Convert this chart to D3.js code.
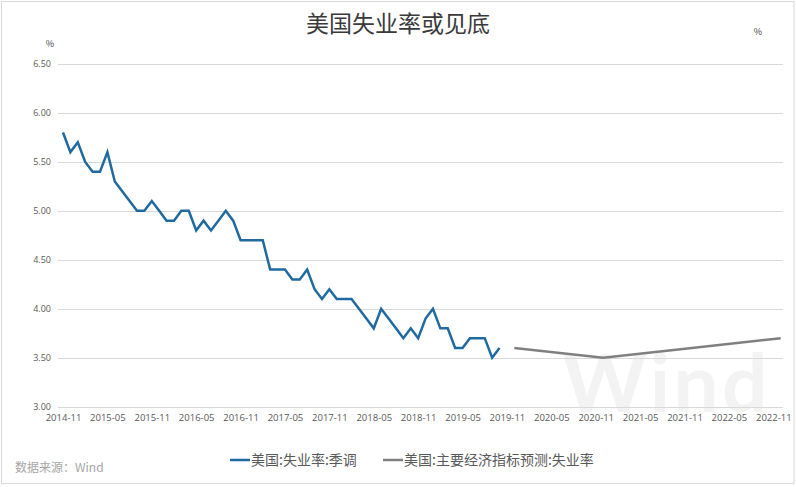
<!DOCTYPE html>
<html>
<head>
<meta charset="utf-8">
<script src="https://cdn.jsdelivr.net/npm/d3@7"></script>
<style>
  body { margin: 0; background: #fff; }
  svg text { font-family: "Noto Sans CJK SC", "Open Sans", sans-serif; }
</style>
</head>
<body>
<div id="chart-area"></div>
<script>
// month labels, 2014-11 .. 2022-12 (one slot per month)
var startYear = 2014, startMonth = 11, monthCount = 98;
var tickLabels = ["2014-11", "2015-05", "2015-11", "2016-05", "2016-11", "2017-05", "2017-11",
    "2018-05", "2018-11", "2019-05", "2019-11", "2020-05", "2020-11", "2021-05", "2021-11",
    "2022-05", "2022-11"];
var yTicks = [3.0, 3.5, 4.0, 4.5, 5.0, 5.5, 6.0, 6.5];

// 美国:失业率:季调, monthly 2014-11 .. 2019-10
var rateMonths = [];
var rateValues = [5.8, 5.6, 5.7, 5.5, 5.4, 5.4, 5.6, 5.3, 5.2, 5.1, 5.0, 5.0,
    5.1, 5.0, 4.9, 4.9, 5.0, 5.0, 4.8, 4.9, 4.8, 4.9, 5.0, 4.9,
    4.7, 4.7, 4.7, 4.7, 4.4, 4.4, 4.4, 4.3, 4.3, 4.4, 4.2, 4.1,
    4.2, 4.1, 4.1, 4.1, 4.0, 3.9, 3.8, 4.0, 3.9, 3.8, 3.7, 3.8,
    3.7, 3.9, 4.0, 3.8, 3.8, 3.6, 3.6, 3.7, 3.7, 3.7, 3.5, 3.6];
// 美国:主要经济指标预测:失业率 (annual, December)
var forecastMonths = ["2019-12", "2020-12", "2021-12", "2022-12"];
var forecastValues = [3.6, 3.5, 3.6, 3.7];

var months = [];
for (var i = 0; i < monthCount; i++) {
    var m = startMonth - 1 + i;
    var yy = startYear + Math.floor(m / 12), mm = (m % 12) + 1;
    months.push(yy + "-" + (mm < 10 ? "0" + mm : mm));
}
for (var i = 0; i < rateValues.length; i++) rateMonths.push(months[i]);

var width = 796, height = 487;
var svg = d3.select("#chart-area").append("svg")
    .attr("width", width)
    .attr("height", height);

// outer frame
svg.append("rect")
    .attr("x", 1.5).attr("y", 1.5)
    .attr("width", 792.5).attr("height", 482)
    .attr("fill", "#fff")
    .attr("stroke", "#d9d9d9");

// watermark (sits behind the plot, above the x labels as in the original)
svg.append("text")
    .attr("x", 665).attr("y", 412)
    .attr("text-anchor", "middle")
    .attr("font-size", "80px")
    .attr("font-weight", "bold")
    .attr("textLength", 205)
    .style("font-family", "Lato, 'Open Sans', sans-serif")
    .attr("fill", "#f3f3f3")
    .text("Wind");

// Scales
var x = d3.scalePoint().domain(months).range([63, 780.7]);
var y = d3.scaleLinear().domain([3.0, 6.5]).range([406.7, 64]);

// gridlines
svg.append("g").selectAll("line")
    .data(yTicks)
    .enter().append("line")
    .attr("x1", 58).attr("x2", 783)
    .attr("y1", function(d) { return Math.round(y(d)) + 0.5; })
    .attr("y2", function(d) { return Math.round(y(d)) + 0.5; })
    .attr("stroke", "#d9d9d9")
    .attr("stroke-width", 1);

// Y-axis labels
var yAxisCall = d3.axisLeft(y).tickValues(yTicks).tickFormat(d3.format(".2f")).tickSize(0).tickPadding(0);
var yAxis = svg.append("g")
    .attr("transform", "translate(51,0)")
    .call(yAxisCall);
yAxis.select(".domain").remove();
yAxis.selectAll("text")
    .attr("font-size", "9px")
    .attr("fill", "#595959")
    .style("font-family", "'Open Sans', sans-serif");

// X-axis labels
var xAxisCall = d3.axisBottom(x).tickValues(tickLabels).tickSize(0).tickPadding(0);
var xAxis = svg.append("g")
    .attr("transform", "translate(0,414)")
    .call(xAxisCall);
xAxis.select(".domain").remove();
xAxis.selectAll("text")
    .attr("font-size", "9.5px")
    .attr("fill", "#595959")
    .style("font-family", "'Open Sans', sans-serif");

// units
svg.append("text").attr("x", 50).attr("y", 47)
    .attr("text-anchor", "middle").attr("font-size", "9px").attr("fill", "#404040")
    .text("%");
svg.append("text").attr("x", 758).attr("y", 35)
    .attr("text-anchor", "middle").attr("font-size", "9px").attr("fill", "#404040")
    .text("%");

// title
svg.append("text")
    .attr("x", 398).attr("y", 32)
    .attr("text-anchor", "middle")
    .attr("font-size", "23px")
    .attr("fill", "#3a3a3a")
    .text("美国失业率或见底");

// lines
var rateLine = d3.line()
    .x(function(d, i) { return x(rateMonths[i]); })
    .y(function(d) { return y(d); });
svg.append("path")
    .attr("d", rateLine(rateValues))
    .attr("fill", "none")
    .attr("stroke", "#1f6aa0")
    .attr("stroke-width", 2.5)
    .attr("stroke-linejoin", "miter");

var fcLine = d3.line()
    .x(function(d, i) { return x(forecastMonths[i]); })
    .y(function(d) { return y(d); });
svg.append("path")
    .attr("d", fcLine(forecastValues))
    .attr("fill", "none")
    .attr("stroke", "#808080")
    .attr("stroke-width", 2.5);

// legend
var legend = [
    { name: "美国:失业率:季调", color: "#1f6aa0", x: 230 },
    { name: "美国:主要经济指标预测:失业率", color: "#808080", x: 383 }
];
var lg = svg.append("g").selectAll("g")
    .data(legend)
    .enter().append("g");
lg.append("line")
    .attr("x1", function(d) { return d.x; })
    .attr("x2", function(d) { return d.x + 20; })
    .attr("y1", 460).attr("y2", 460)
    .attr("stroke", function(d) { return d.color; })
    .attr("stroke-width", 2.5);
lg.append("text")
    .attr("x", function(d) { return d.x + 21; })
    .attr("y", 465)
    .attr("font-size", "14px")
    .attr("fill", "#595959")
    .text(function(d) { return d.name; });

// source
svg.append("text")
    .attr("x", 15).attr("y", 472)
    .attr("font-size", "12px")
    .attr("fill", "#a6a6a6")
    .text("数据来源：Wind");
</script>
</body>
</html>
